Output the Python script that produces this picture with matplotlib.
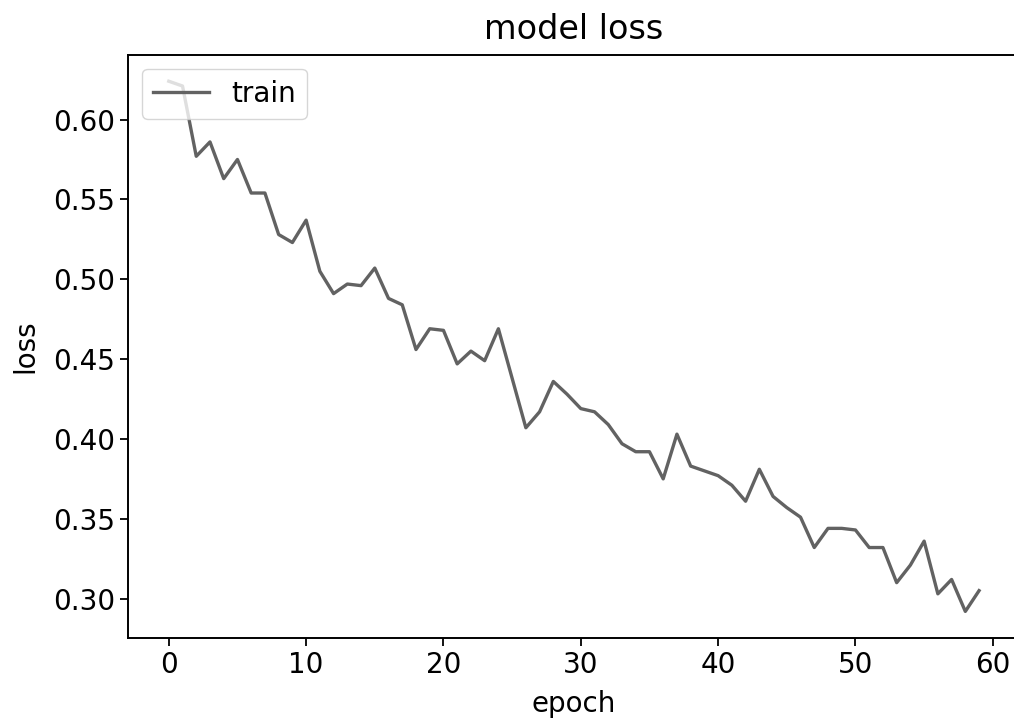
import matplotlib
matplotlib.use("Agg")
import matplotlib.pyplot as plt

# training loss per epoch
epochs = list(range(60))
train_loss = [
    0.624, 0.621, 0.577, 0.586, 0.563, 0.575, 0.554, 0.554, 0.528, 0.523,
    0.537, 0.505, 0.491, 0.497, 0.496, 0.507, 0.488, 0.484, 0.456, 0.469,
    0.468, 0.447, 0.455, 0.449, 0.469, 0.438, 0.407, 0.417, 0.436, 0.428,
    0.419, 0.417, 0.409, 0.397, 0.392, 0.392, 0.375, 0.403, 0.383, 0.380,
    0.377, 0.371, 0.361, 0.381, 0.364, 0.357, 0.351, 0.332, 0.344, 0.344,
    0.343, 0.332, 0.332, 0.310, 0.321, 0.336, 0.303, 0.312, 0.292, 0.305,
]

plt.rcParams["font.size"] = 20

fig = plt.figure(figsize=(10.14, 7.2), dpi=100)
# the reference is cropped on the right, so the axes run past the edge
ax = fig.add_axes([0.1265, 0.114, 0.879, 0.81])

ax.plot(epochs, train_loss, color="#626262", linewidth=2.4, label="train")
ax.set_title("model loss", fontsize=24, pad=11)
ax.set_ylabel("loss", labelpad=10)
ax.set_xlabel("epoch", labelpad=8)
ax.set_yticks([0.30, 0.35, 0.40, 0.45, 0.50, 0.55, 0.60])
ax.tick_params(length=6, width=1.3)
for s in ax.spines.values():
    s.set_linewidth(1.4)
ax.spines["right"].set_visible(False)
ax.legend(loc="upper left")

fig.savefig("out.png", dpi=100)
